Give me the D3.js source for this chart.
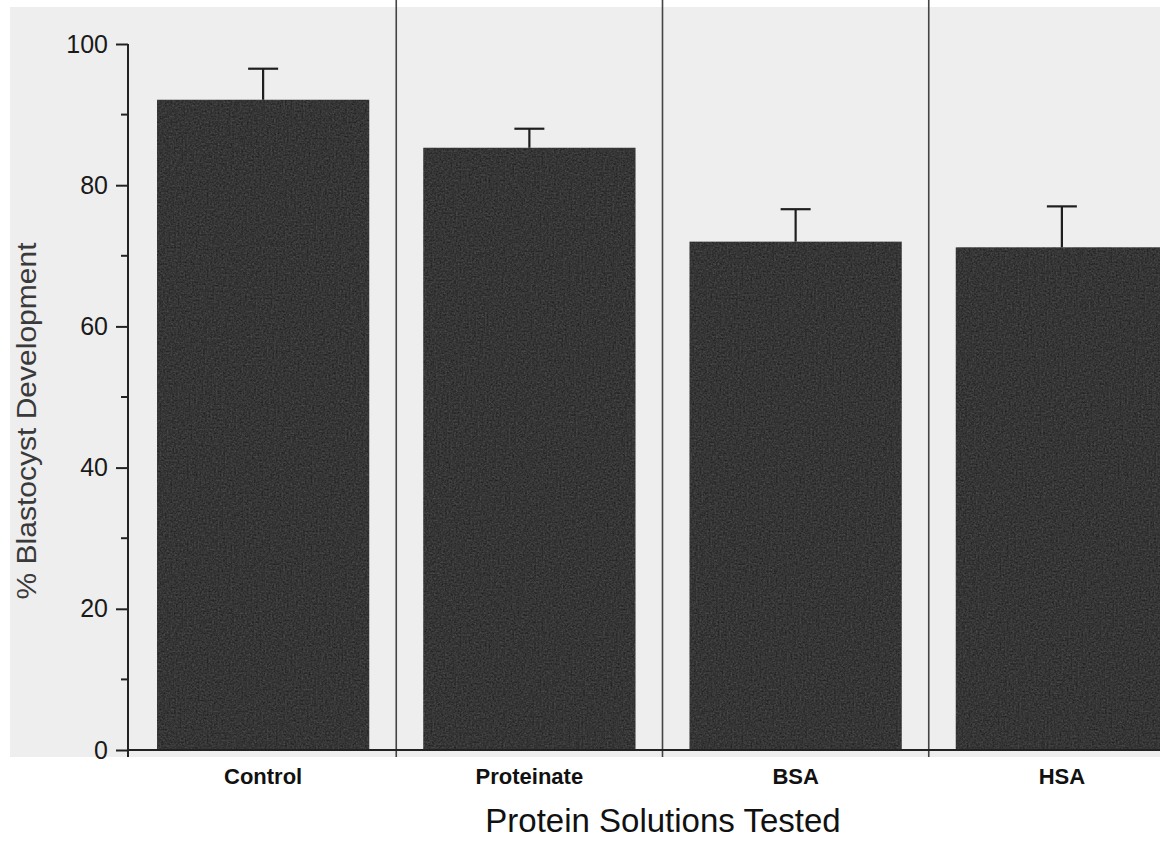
<!DOCTYPE html>
<html>
<head>
<meta charset="utf-8">
<script src="https://cdn.jsdelivr.net/npm/d3@7"></script>
<style>
  html, body { margin: 0; padding: 0; background: #fff; }
  svg { display: block; }
</style>
</head>
<body>
<div id="chart"></div>
<script>
// values
var categories = ["Control", "Proteinate", "BSA", "HSA"];
var means = [92.1, 85.3, 72.0, 71.2];
var errors = [4.4, 2.7, 4.6, 5.8];
var yTicks = [0, 20, 40, 60, 80, 100];
var yMinorTicks = [10, 30, 50, 70, 90];

var width = 1160, height = 841;

var svg = d3.select("#chart")
  .append("svg")
    .attr("width", width)
    .attr("height", height);

// grainy look of the printed bars
var defs = svg.append("defs");
var f = defs.append("filter").attr("id", "grain")
  .attr("color-interpolation-filters", "sRGB")
  .attr("x", 0).attr("y", 0).attr("width", 1).attr("height", 1);
f.append("feTurbulence")
  .attr("type", "fractalNoise")
  .attr("baseFrequency", 0.55)
  .attr("numOctaves", 2)
  .attr("seed", 3)
  .attr("result", "noise");
f.append("feColorMatrix")
  .attr("in", "noise")
  .attr("type", "matrix")
  .attr("values", "1 1 0 0 -0.5  1 1 0 0 -0.5  1 1 0 0 -0.5  0 0 0 0 0.16")
  .attr("result", "gray");
f.append("feComposite")
  .attr("in", "gray").attr("in2", "SourceGraphic")
  .attr("operator", "in").attr("result", "speck");
var merge = f.append("feMerge");
merge.append("feMergeNode").attr("in", "SourceGraphic");
merge.append("feMergeNode").attr("in", "speck");

// scanned page behind the plot
svg.append("rect")
  .attr("x", 10).attr("y", 7)
  .attr("width", width - 10).attr("height", 750)
  .attr("fill", "#eeeeee");

var x = d3.scaleBand()
  .domain(categories)
  .range([128, 1197])
  .paddingInner(0.203)
  .paddingOuter(0.109);

var y = d3.scaleLinear()
  .domain([0, 100])
  .range([750, 44]);

var step = x.step(), bw = x.bandwidth();

// column rules between the categories
svg.selectAll(".sep")
  .data(categories.slice(0, -1))
  .enter()
  .append("line")
    .attr("class", "sep")
    .attr("x1", function(d) { return x(d) + bw + (step - bw) / 2 })
    .attr("x2", function(d) { return x(d) + bw + (step - bw) / 2 })
    .attr("y1", 0)
    .attr("y2", 757)
    .attr("stroke", "#444")
    .attr("stroke-width", 1.6);

// bars
svg.selectAll(".bar")
  .data(categories)
  .enter()
  .append("rect")
    .attr("class", "bar")
    .attr("x", function(d) { return x(d) })
    .attr("y", function(d, i) { return y(means[i]) })
    .attr("width", bw)
    .attr("height", function(d, i) { return y(0) - y(means[i]) })
    .attr("fill", "#282828")
    .attr("filter", "url(#grain)");

// error bars (upper only)
var eb = svg.selectAll(".err")
  .data(categories)
  .enter()
  .append("g")
    .attr("class", "err")
    .attr("stroke", "#1e1e1e")
    .attr("stroke-width", 2.2);
eb.append("line")
  .attr("x1", function(d) { return x(d) + bw / 2 })
  .attr("x2", function(d) { return x(d) + bw / 2 })
  .attr("y1", function(d, i) { return y(means[i]) })
  .attr("y2", function(d, i) { return y(means[i] + errors[i]) });
eb.append("line")
  .attr("x1", function(d) { return x(d) + bw / 2 - 15 })
  .attr("x2", function(d) { return x(d) + bw / 2 + 15 })
  .attr("y1", function(d, i) { return y(means[i] + errors[i]) })
  .attr("y2", function(d, i) { return y(means[i] + errors[i]) });

// x baseline
svg.append("line")
  .attr("x1", 128).attr("x2", width)
  .attr("y1", y(0)).attr("y2", y(0))
  .attr("stroke", "#222").attr("stroke-width", 2);

// y axis
var yAxis = svg.append("g")
  .attr("transform", "translate(128,0)")
  .call(d3.axisLeft(y).tickValues(yTicks).tickSize(12).tickPadding(8));
yAxis.select(".domain").remove();
yAxis.selectAll(".tick line").attr("stroke", "#222").attr("stroke-width", 2);
yAxis.selectAll(".tick text")
  .attr("fill", "#1a1a1a")
  .style("font-family", "'Liberation Sans', Arial, sans-serif")
  .style("font-size", "25px");

svg.append("g")
  .attr("transform", "translate(128,0)")
  .selectAll("line")
  .data(yMinorTicks)
  .enter()
  .append("line")
    .attr("x1", -7).attr("x2", 0)
    .attr("y1", function(d) { return y(d) })
    .attr("y2", function(d) { return y(d) })
    .attr("stroke", "#222").attr("stroke-width", 2);

svg.append("line")
  .attr("x1", 128).attr("x2", 128)
  .attr("y1", y(100)).attr("y2", 757)
  .attr("stroke", "#222").attr("stroke-width", 2);

// category labels
svg.selectAll(".cat")
  .data(categories)
  .enter()
  .append("text")
    .attr("class", "cat")
    .attr("x", function(d) { return x(d) + bw / 2 })
    .attr("y", 784)
    .attr("text-anchor", "middle")
    .style("font-family", "'Liberation Sans', Arial, sans-serif")
    .style("font-weight", "bold")
    .style("font-size", "22px")
    .attr("fill", "#111")
    .text(function(d) { return d });

// axis titles
svg.append("text")
  .attr("x", 663).attr("y", 832)
  .attr("text-anchor", "middle")
  .style("font-family", "'Liberation Sans', Arial, sans-serif")
  .style("font-size", "33px")
  .attr("fill", "#111")
  .text("Protein Solutions Tested");

svg.append("text")
  .attr("transform", "translate(36,421) rotate(-90)")
  .attr("text-anchor", "middle")
  .attr("textLength", 357)
  .attr("lengthAdjust", "spacingAndGlyphs")
  .style("font-family", "'Liberation Sans', Arial, sans-serif")
  .style("font-size", "27px")
  .attr("fill", "#3a3a3a")
  .text("% Blastocyst Development");
</script>
</body>
</html>
